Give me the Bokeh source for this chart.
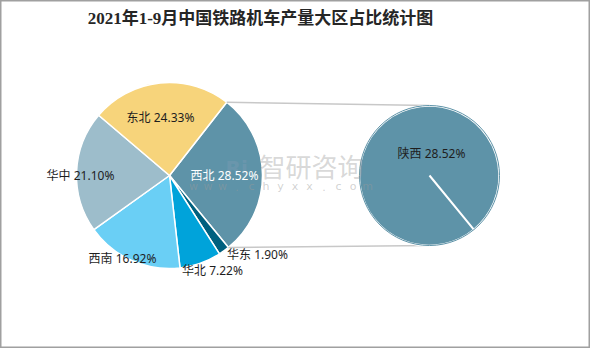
import numpy as np
from bokeh.plotting import figure
from bokeh.models import Range1d, ColumnDataSource
from bokeh.core.properties import value
from bokeh.embed import file_html
from bokeh.resources import INLINE

# ---- data ----
regions = ["西北", "华东", "华北", "西南", "华中", "东北"]
shares = [28.52, 1.90, 7.22, 16.92, 21.10, 24.33]
colors = ["#5E93A8", "#00607F", "#00A3DA", "#6ACFF5", "#9DBDCB", "#F7D47B"]
sub_regions = ["陕西"]
sub_shares = [28.52]
title_text = "2021年1-9月中国铁路机车产量大区占比统计图"

# ---- layout (pixel-like coordinates, y measured downwards from the top) ----
W, H = 590, 348
OFF = 8
def Y(yy):
    return 364 - yy

main_cx, main_cy, main_r = 177, 183, 93
sub_cx, sub_cy, sub_r = 437, 183, 70
start_deg = 52.0
LABEL_FONT = "'Noto Sans', 'Noto Sans CJK SC', sans-serif"

label_pos = {  # label centres
    "西北": (232, 183), "华东": (265, 262), "华北": (220, 278),
    "西南": (130, 266), "华中": (88, 183), "东北": (168, 125),
}
label_colors = {"西北": "white"}

p = figure(width=W, height=H, output_backend="svg", toolbar_location=None,
           x_range=Range1d(OFF, OFF + W), y_range=Range1d(Y(OFF + H), Y(OFF)),
           min_border=0, match_aspect=False)
p.axis.visible = False
p.grid.visible = False
p.outline_line_color = "#A0A0A0"
p.outline_line_width = 2
p.background_fill_color = "white"
p.border_fill_color = "white"

# angles from data
vals = np.array(shares)
cum = np.concatenate([[0], np.cumsum(vals)[:-1]])
starts = np.deg2rad(start_deg - cum * 3.6)          # counter-clockwise high end
ends = np.deg2rad(start_deg - (cum + vals) * 3.6)   # low end

src = ColumnDataSource(dict(x=[main_cx] * len(regions), y=[Y(main_cy)] * len(regions),
                            s=ends, e=starts, c=colors))
p.wedge(x="x", y="y", radius=main_r, start_angle="s", end_angle="e",
        direction="anticlock", fill_color="c", line_color="white", line_width=1.5,
        source=src)

# connector lines from 西北 slice edges to the secondary pie
a_top = starts[0]
a_bot = ends[0]
p.line([main_cx + main_r * np.cos(a_top), sub_cx], [Y(main_cy) + main_r * np.sin(a_top), Y(sub_cy) + sub_r],
       line_color="#C8C8C8", line_width=1.5)
p.line([main_cx + main_r * np.cos(a_bot), sub_cx], [Y(main_cy) + main_r * np.sin(a_bot), Y(sub_cy) - sub_r],
       line_color="#C8C8C8", line_width=1.5)

# secondary pie (full circle for 陕西)
sub_frac = np.array(sub_shares) / sum(sub_shares)
p.wedge(x=sub_cx, y=Y(sub_cy), radius=sub_r, start_angle=a_bot,
        end_angle=a_bot + 2 * np.pi * sub_frac[0] - 1e-4, direction="anticlock",
        fill_color=colors[0], line_color="white", line_width=2)
p.circle(x=sub_cx, y=Y(sub_cy), radius=sub_r, fill_color=None, line_color=colors[0], line_width=1)

# watermark
p.text(x=[233], y=[Y(175)], text=["Ri"], text_font=value("DejaVu Sans"), text_font_size="20px",
       text_font_style="bold", text_color="#7F9BB5", text_alpha=0.4, text_align="left", text_baseline="middle")
p.text(x=[267], y=[Y(173)], text=["智研咨询"], text_font=value("Noto Sans CJK SC"), text_font_size="26px",
       text_color="#9A9A9A", text_alpha=0.4, text_align="left", text_baseline="middle")
wm = list("www.chyxx.com")
p.text(x=[201 + i * 14.5 for i in range(len(wm))], y=[Y(194)] * len(wm), text=wm,
       text_font=value("DejaVu Sans"), text_font_size="11px", text_color="#9A9A9A", text_alpha=0.45,
       text_align="center", text_baseline="middle")

# labels
lx = [label_pos[r][0] for r in regions]
ly = [Y(label_pos[r][1]) for r in regions]
lt = [f"{r} {v:.2f}%" for r, v in zip(regions, shares)]
lc = [label_colors.get(r, "#1E1E1E") for r in regions]
p.text(x=lx, y=ly, text=lt, text_color=lc, text_font=value(LABEL_FONT), text_font_size="12px",
       text_align="center", text_baseline="middle")
p.text(x=[439], y=[Y(161)], text=[f"{sub_regions[0]} {sub_shares[0]:.2f}%"], text_color="#1E1E1E",
       text_font=value(LABEL_FONT), text_font_size="12px", text_align="center", text_baseline="middle")

# title
p.text(x=[268], y=[Y(26)], text=[title_text], text_font=value("'Liberation Serif', 'Noto Sans CJK SC', serif"),
       text_font_size="17px", text_font_style="bold", text_color="#262626",
       text_align="center", text_baseline="middle")

open("out.html", "w").write(file_html(p, INLINE))
